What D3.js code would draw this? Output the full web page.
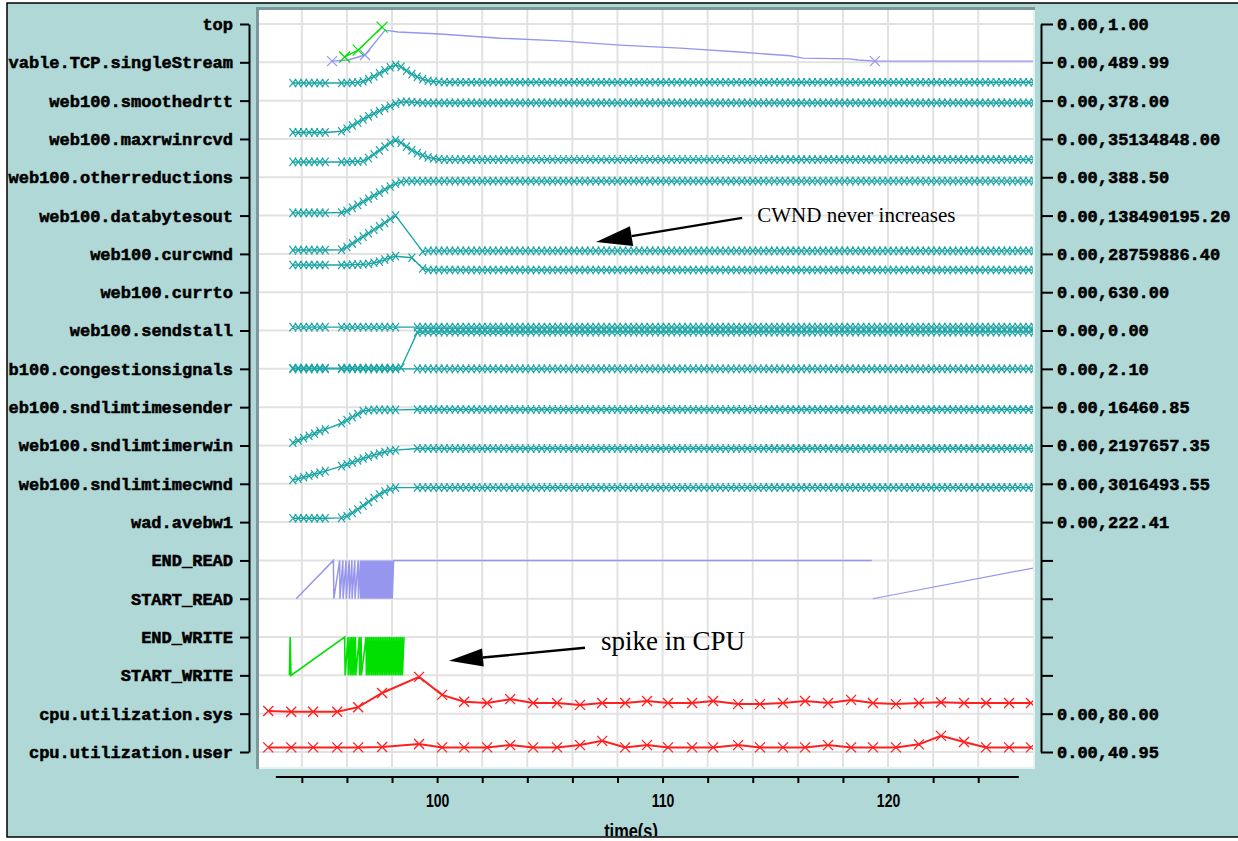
<!DOCTYPE html>
<html>
<head>
<meta charset="utf-8">
<script src="https://cdn.jsdelivr.net/npm/d3@7"></script>
<style>
  html, body { margin: 0; padding: 0; background: #fff; }
  svg { display: block; }
</style>
</head>
<body>
<div id="chart"></div>
<script>
// row labels of the left axis, top to bottom (as far as they show inside the frame)
const rowLabels = ["top", "vable.TCP.singleStream", "web100.smoothedrtt", "web100.maxrwinrcvd",
  "web100.otherreductions", "web100.databytesout", "web100.curcwnd", "web100.currto", "web100.sendstall",
  "b100.congestionsignals", "eb100.sndlimtimesender", "web100.sndlimtimerwin", "web100.sndlimtimecwnd",
  "wad.avebw1", "END_READ", "START_READ", "END_WRITE", "START_WRITE", "cpu.utilization.sys", "cpu.utilization.user"];
// min,max of each row (right axis)
const rangeLabels = ["0.00,1.00", "0.00,489.99", "0.00,378.00", "0.00,35134848.00", "0.00,388.50",
  "0.00,138490195.20", "0.00,28759886.40", "0.00,630.00", "0.00,0.00", "0.00,2.10", "0.00,16460.85",
  "0.00,2197657.35", "0.00,3016493.55", "0.00,222.41", "", "", "", "", "0.00,80.00", "0.00,40.95"];

// time axis
const xTicks = [94, 96, 98, 100, 102, 104, 106, 108, 110, 112, 114, 116, 118, 120, 122, 124];
const xLabelled = [100, 110, 120];

// web100 samples: one value every samplePeriod seconds from sampleStart,
// value = fraction of the row band above the series' baseline row (null = no sample)
const sampleStart = 93.6, samplePeriod = 0.24;

const rttTrace = [
  .46,.46,.46,.46,.46,.46,.46,null,null,.46,.46,.47,.47,.5,.56,.63,.71,.79,.87,.93,.88,.78,.69,.62,.56,.52,.5,.49,
  .48,.48,.48,.48,.48,.48,.48,.48,.48,.48,.48,
  .48,.48,.48,.48,.48,.48,.48,.48,.48,.48,.48,
  .48,.48,.48,.48,.48,.48,.48,.48,.48,.48,.48,
  .48,.48,.48,.48,.48,.48,.48,.48,.48,.48,.48,
  .48,.48,.48,.48,.48,.48,.48,.48,.48,.48,.48,
  .48,.48,.48,.48,.48,.48,.48,.48,.48,.48,.48,
  .48,.48,.48,.48,.48,.48,.48,.48,.48,.48,.48,
  .48,.48,.48,.48,.48,.48,.48,.48,.48,.48,.48,
  .48,.48,.48,.48,.48,.48,.48,.48,.48,.48,.48,
  .48,.48,.48,.48,.48,.48,.48,.48,.48,.48,.48
];
const rwinTrace = [
  .17,.17,.17,.17,.17,.17,.17,null,null,.2,.27,.35,.43,.51,.59,.66,.73,.8,.86,.92,.96,.97,.96,.95,.94,.94,.94,.94,
  .94,.94,.94,.94,.94,.94,.94,.94,.94,.94,.94,
  .94,.94,.94,.94,.94,.94,.94,.94,.94,.94,.94,
  .94,.94,.94,.94,.94,.94,.94,.94,.94,.94,.94,
  .94,.94,.94,.94,.94,.94,.94,.94,.94,.94,.94,
  .94,.94,.94,.94,.94,.94,.94,.94,.94,.94,.94,
  .94,.94,.94,.94,.94,.94,.94,.94,.94,.94,.94,
  .94,.94,.94,.94,.94,.94,.94,.94,.94,.94,.94,
  .94,.94,.94,.94,.94,.94,.94,.94,.94,.94,.94,
  .94,.94,.94,.94,.94,.94,.94,.94,.94,.94,.94,
  .94,.94,.94,.94,.94,.94,.94,.94,.94,.94,.94
];
const otherRedTrace = [
  .4,.4,.4,.4,.4,.4,.4,null,null,.4,.4,.41,.41,.42,.5,.6,.7,.8,.9,.97,.9,.8,.71,.63,.57,.52,.49,.47,
  .46,.46,.46,.46,.46,.46,.46,.46,.46,.46,.46,
  .46,.46,.46,.46,.46,.46,.46,.46,.46,.46,.46,
  .46,.46,.46,.46,.46,.46,.46,.46,.46,.46,.46,
  .46,.46,.46,.46,.46,.46,.46,.46,.46,.46,.46,
  .46,.46,.46,.46,.46,.46,.46,.46,.46,.46,.46,
  .46,.46,.46,.46,.46,.46,.46,.46,.46,.46,.46,
  .46,.46,.46,.46,.46,.46,.46,.46,.46,.46,.46,
  .46,.46,.46,.46,.46,.46,.46,.46,.46,.46,.46,
  .46,.46,.46,.46,.46,.46,.46,.46,.46,.46,.46,
  .46,.46,.46,.46,.46,.46,.46,.46,.46,.46,.46
];
const bytesOutTrace = [
  .07,.07,.07,.07,.07,.07,.07,null,null,.08,.12,.2,.28,.36,.44,.52,.6,.68,.76,.83,.88,.9,.9,.9,.9,.9,.9,.9,
  .9,.9,.9,.9,.9,.9,.9,.9,.9,.9,.9,
  .9,.9,.9,.9,.9,.9,.9,.9,.9,.9,.9,
  .9,.9,.9,.9,.9,.9,.9,.9,.9,.9,.9,
  .9,.9,.9,.9,.9,.9,.9,.9,.9,.9,.9,
  .9,.9,.9,.9,.9,.9,.9,.9,.9,.9,.9,
  .9,.9,.9,.9,.9,.9,.9,.9,.9,.9,.9,
  .9,.9,.9,.9,.9,.9,.9,.9,.9,.9,.9,
  .9,.9,.9,.9,.9,.9,.9,.9,.9,.9,.9,
  .9,.9,.9,.9,.9,.9,.9,.9,.9,.9,.9,
  .9,.9,.9,.9,.9,.9,.9,.9,.9,.9,.9
];
const cwndTrace = [
  .1,.1,.1,.1,.1,.1,.1,null,null,.11,.18,.27,.36,.45,.54,.63,.72,.81,.91,1,null,null,null,null,.06,.08,.08,.08,
  .08,.08,.08,.08,.08,.08,.08,.08,.08,.08,.08,
  .08,.08,.08,.08,.08,.08,.08,.08,.08,.08,.08,
  .08,.08,.08,.08,.08,.08,.08,.08,.08,.08,.08,
  .08,.08,.08,.08,.08,.08,.08,.08,.08,.08,.08,
  .08,.08,.08,.08,.08,.08,.08,.08,.08,.08,.08,
  .08,.08,.08,.08,.08,.08,.08,.08,.08,.08,.08,
  .08,.08,.08,.08,.08,.08,.08,.08,.08,.08,.08,
  .08,.08,.08,.08,.08,.08,.08,.08,.08,.08,.08,
  .08,.08,.08,.08,.08,.08,.08,.08,.08,.08,.08,
  .08,.08,.08,.08,.08,.08,.08,.08,.08,.08,.08
];
const rtoTrace = [
  .71,.71,.71,.71,.71,.71,.71,null,null,.71,.71,.72,.72,.73,.74,.77,.8,.85,.9,.94,null,null,.9,null,.62,.58,.58,.58,
  .58,.58,.58,.58,.58,.58,.58,.58,.58,.58,.58,
  .58,.58,.58,.58,.58,.58,.58,.58,.58,.58,.58,
  .58,.58,.58,.58,.58,.58,.58,.58,.58,.58,.58,
  .58,.58,.58,.58,.58,.58,.58,.58,.58,.58,.58,
  .58,.58,.58,.58,.58,.58,.58,.58,.58,.58,.58,
  .58,.58,.58,.58,.58,.58,.58,.58,.58,.58,.58,
  .58,.58,.58,.58,.58,.58,.58,.58,.58,.58,.58,
  .58,.58,.58,.58,.58,.58,.58,.58,.58,.58,.58,
  .58,.58,.58,.58,.58,.58,.58,.58,.58,.58,.58,
  .58,.58,.58,.58,.58,.58,.58,.58,.58,.58,.58
];
const stallTrace = [
  .09,.09,.09,.09,.09,.09,.09,null,null,.09,.09,.09,.09,.09,.09,.09,.09,.09,.09,.09,null,null,null,.09,.09,.09,.09,.09,
  .09,.09,.09,.09,.09,.09,.09,.09,.09,.09,.09,
  .09,.09,.09,.09,.09,.09,.09,.09,.09,.09,.09,
  .09,.09,.09,.09,.09,.09,.09,.09,.09,.09,.09,
  .09,.09,.09,.09,.09,.09,.09,.09,.09,.09,.09,
  .09,.09,.09,.09,.09,.09,.09,.09,.09,.09,.09,
  .09,.09,.09,.09,.09,.09,.09,.09,.09,.09,.09,
  .09,.09,.09,.09,.09,.09,.09,.09,.09,.09,.09,
  .09,.09,.09,.09,.09,.09,.09,.09,.09,.09,.09,
  .09,.09,.09,.09,.09,.09,.09,.09,.09,.09,.09,
  .09,.09,.09,.09,.09,.09,.09,.09,.09,.09,.09
];
const congTrace = [
  .02,.02,.02,.02,.02,.02,.02,null,null,.02,.02,.02,.02,.02,.02,.02,.02,.02,.02,.02,.03,null,null,.95,.96,.96,.96,.96,
  .96,.96,.96,.96,.96,.96,.96,.96,.96,.96,.96,
  .96,.96,.96,.96,.96,.96,.96,.96,.96,.96,.96,
  .96,.96,.96,.96,.96,.96,.96,.96,.96,.96,.96,
  .96,.96,.96,.96,.96,.96,.96,.96,.96,.96,.96,
  .96,.96,.96,.96,.96,.96,.96,.96,.96,.96,.96,
  .96,.96,.96,.96,.96,.96,.96,.96,.96,.96,.96,
  .96,.96,.96,.96,.96,.96,.96,.96,.96,.96,.96,
  .96,.96,.96,.96,.96,.96,.96,.96,.96,.96,.96,
  .96,.96,.96,.96,.96,.96,.96,.96,.96,.96,.96,
  .96,.96,.96,.96,.96,.96,.96,.96,.96,.96,.96
];
const congFlatTrace = [
  0,0,0,0,0,0,0,null,null,0,0,0,0,0,0,0,0,0,0,0,null,null,null,0,0,0,0,0,
  0,0,0,0,0,0,0,0,0,0,0,
  0,0,0,0,0,0,0,0,0,0,0,
  0,0,0,0,0,0,0,0,0,0,0,
  0,0,0,0,0,0,0,0,0,0,0,
  0,0,0,0,0,0,0,0,0,0,0,
  0,0,0,0,0,0,0,0,0,0,0,
  0,0,0,0,0,0,0,0,0,0,0,
  0,0,0,0,0,0,0,0,0,0,0,
  0,0,0,0,0,0,0,0,0,0,0,
  0,0,0,0,0,0,0,0,0,0,0
];
const senderTrace = [
  .07,.13,.19,.25,.31,.37,.42,null,null,.58,.66,.74,.82,.9,.92,.93,.93,.93,.93,.93,null,null,null,.94,.94,.94,.94,.94,
  .94,.94,.94,.94,.94,.94,.94,.94,.94,.94,.94,
  .94,.94,.94,.94,.94,.94,.94,.94,.94,.94,.94,
  .94,.94,.94,.94,.94,.94,.94,.94,.94,.94,.94,
  .94,.94,.94,.94,.94,.94,.94,.94,.94,.94,.94,
  .94,.94,.94,.94,.94,.94,.94,.94,.94,.94,.94,
  .94,.94,.94,.94,.94,.94,.94,.94,.94,.94,.94,
  .94,.94,.94,.94,.94,.94,.94,.94,.94,.94,.94,
  .94,.94,.94,.94,.94,.94,.94,.94,.94,.94,.94,
  .94,.94,.94,.94,.94,.94,.94,.94,.94,.94,.94,
  .94,.94,.94,.94,.94,.94,.94,.94,.94,.94,.94
];
const rwinLimTrace = [
  .1,.13,.17,.21,.25,.29,.33,null,null,.46,.51,.56,.61,.66,.71,.75,.79,.83,.86,.88,null,null,null,.92,.92,.92,.92,.92,
  .92,.92,.92,.92,.92,.92,.92,.92,.92,.92,.92,
  .92,.92,.92,.92,.92,.92,.92,.92,.92,.92,.92,
  .92,.92,.92,.92,.92,.92,.92,.92,.92,.92,.92,
  .92,.92,.92,.92,.92,.92,.92,.92,.92,.92,.92,
  .92,.92,.92,.92,.92,.92,.92,.92,.92,.92,.92,
  .92,.92,.92,.92,.92,.92,.92,.92,.92,.92,.92,
  .92,.92,.92,.92,.92,.92,.92,.92,.92,.92,.92,
  .92,.92,.92,.92,.92,.92,.92,.92,.92,.92,.92,
  .92,.92,.92,.92,.92,.92,.92,.92,.92,.92,.92,
  .92,.92,.92,.92,.92,.92,.92,.92,.92,.92,.92
];
const cwndLimTrace = [
  .1,.1,.1,.1,.1,.1,.1,null,null,.11,.16,.24,.33,.43,.53,.63,.72,.8,.86,.9,null,null,null,.9,.9,.9,.9,.9,
  .9,.9,.9,.9,.9,.9,.9,.9,.9,.9,.9,
  .9,.9,.9,.9,.9,.9,.9,.9,.9,.9,.9,
  .9,.9,.9,.9,.9,.9,.9,.9,.9,.9,.9,
  .9,.9,.9,.9,.9,.9,.9,.9,.9,.9,.9,
  .9,.9,.9,.9,.9,.9,.9,.9,.9,.9,.9,
  .9,.9,.9,.9,.9,.9,.9,.9,.9,.9,.9,
  .9,.9,.9,.9,.9,.9,.9,.9,.9,.9,.9,
  .9,.9,.9,.9,.9,.9,.9,.9,.9,.9,.9,
  .9,.9,.9,.9,.9,.9,.9,.9,.9,.9,.9,
  .9,.9,.9,.9,.9,.9,.9,.9,.9,.9,.9
];
// baseline row of each web100 trace
const web100Series = [
  { row: 2, vals: rttTrace }, { row: 3, vals: rwinTrace }, { row: 4, vals: otherRedTrace },
  { row: 5, vals: bytesOutTrace }, { row: 6, vals: cwndTrace }, { row: 7, vals: rtoTrace },
  { row: 8, vals: stallTrace }, { row: 9, vals: congTrace }, { row: 9, vals: congFlatTrace },
  { row: 11, vals: senderTrace }, { row: 12, vals: rwinLimTrace }, { row: 13, vals: cwndLimTrace }
];

// singleStream (lavender) and top (green): [time, fraction, has marker]
const singleStream = [[95.34,.03,1],[96.05,.06,0],[96.8,.19,1],[97.69,.84,0],[98.27,.79,0],[100.13,.74,0],
  [102.8,.63,0],[105.45,.56,0],[108.1,.45,0],[110.78,.37,0],[113.4,.27,0],[115.2,.19,0],[115.65,.17,0],
  [116.23,.11,0],[118.3,.09,0],[118.67,.06,0],[119.42,.03,1],[126.5,.03,0]];
const topTrace = [[95.9,.14,1],[96.5,.32,1],[97.56,.92,1]];

// read / write intervals [start, end] (sawtooth between START_ and END_ rows)
const readIntervals = [[93.75,95.40],[95.42,95.68],[95.69,95.82],[95.83,95.96],[95.97,96.10],[96.11,96.22],
  [96.23,96.35],[96.36,96.50],[96.51,96.60],[96.61,96.67],[96.68,96.74],[96.75,96.81],[96.82,96.88],
  [96.89,96.95],[96.96,97.02],[97.03,97.09],[97.10,97.16],[97.17,97.23],[97.24,97.30],[97.31,97.37],
  [97.38,97.44],[97.45,97.51],[97.52,97.58],[97.59,97.65],[97.66,97.72],[97.73,97.79],[97.80,97.86],
  [97.87,97.93],[97.94,98.00],[98.01,98.07]];
const readHoldUntil = 119.28;
const lateRead = [119.32, 128.2];
const writeIntervals = [[93.45,93.48],[93.52,95.90],[95.92,96.05],[96.06,96.14],[96.15,96.22],[96.23,96.30],
  [96.31,96.38],[96.39,96.55],[96.56,96.63],[96.64,96.85],[96.86,96.93],[96.94,97.01],[97.02,97.09],
  [97.10,97.17],[97.18,97.25],[97.26,97.33],[97.34,97.41],[97.42,97.49],[97.50,97.57],[97.58,97.65],
  [97.66,97.73],[97.74,97.81],[97.82,97.89],[97.90,97.97],[97.98,98.05],[98.06,98.13],[98.14,98.21],
  [98.22,98.29],[98.30,98.37],[98.38,98.45],[98.46,98.53]];

// cpu utilisation, one sample per second
const cpuTimes = [92.51,93.53,94.5,95.57,96.5,97.56,99.2,100.22,101.2,102.22,103.24,104.26,105.32,106.34,
  107.32,108.34,109.31,110.24,111.31,112.24,113.35,114.32,115.34,116.32,117.34,118.36,119.33,120.35,121.37,
  122.35,123.37,124.35,125.37,126.34];
const cpuSys = [.07,.05,.05,.05,.17,.54,.96,.49,.31,.28,.38,.28,.28,.23,.28,.28,.33,.28,.28,.33,.25,.25,.28,
  .33,.28,.36,.28,.25,.28,.3,.28,.28,.28,.28];
const cpuUser = [.12,.12,.12,.12,.12,.13,.21,.12,.12,.12,.18,.12,.12,.18,.29,.12,.18,.12,.12,.12,.18,.12,.12,
  .12,.18,.12,.12,.12,.2,.42,.26,.12,.12,.12];

// annotations, in (time, row) coordinates
const notes = [
  { text: "CWND never increases", t: 114.2, row: 5.17, size: 21 },
  { text: "spike in CPU", t: 107.27, row: 16.34, size: 27 }
];
const arrows = [
  { from: [113.53, 5.06], to: [107.05, 5.69], len: 36, half: 10 },
  { from: [106.56, 16.28], to: [100.53, 16.62], len: 34, half: 9 }
];

const W = 1238, H = 841;
const teal = "#b0d8d7", cyan = "#1aa4a4", lav = "#9696ee", green = "#00e000", red = "#ff1f1f";
const monoFont = "'Liberation Mono', 'Courier New', monospace";

const svg = d3.select("#chart").append("svg").attr("width", W).attr("height", H);
const defs = svg.append("defs");
defs.append("clipPath").attr("id", "plotClip").append("rect")
  .attr("x", 259).attr("y", 10).attr("width", 774).attr("height", 757);
defs.append("clipPath").attr("id", "frameClip").append("rect")
  .attr("x", 8).attr("y", 4).attr("width", W).attr("height", 832);

// x: time(s), y: row index
const x = d3.scaleLinear().domain([92.1, 126.43]).range([259, 1033]);
const y = d3.scaleLinear().domain([0, 19]).range([24, 752]);
const yv = (row, v) => y(row - v);
const sampleTime = i => sampleStart + i * samplePeriod;

// background frame
svg.append("rect").attr("x", 7).attr("y", 3).attr("width", W + 10).attr("height", 834)
  .attr("fill", teal).attr("stroke", "#000").attr("stroke-width", 1.5);

// sunken plot panel
svg.append("rect").attr("x", 256).attr("y", 7).attr("width", 779).attr("height", 762).attr("fill", "#7c9898");
svg.append("rect").attr("x", 259).attr("y", 10).attr("width", 776).attr("height", 759).attr("fill", "#e4f2f2");
svg.append("rect").attr("x", 259).attr("y", 10).attr("width", 774).attr("height", 757).attr("fill", "#fff");

const plot = svg.append("g").attr("clip-path", "url(#plotClip)");

// grid
plot.append("g").selectAll("line").data(d3.range(rowLabels.length)).join("line")
  .attr("x1", 259).attr("x2", 1033).attr("y1", d => y(d)).attr("y2", d => y(d))
  .attr("stroke", "#e2e2e2").attr("stroke-width", 2);
plot.append("g").selectAll("line").data(xTicks).join("line")
  .attr("x1", d => x(d)).attr("x2", d => x(d)).attr("y1", 10).attr("y2", 767)
  .attr("stroke", "#e2e2e2").attr("stroke-width", 2);

const line = d3.line();
function crossPath(p, hw, hh) {
  return `M${p[0] - hw},${p[1] - hh}L${p[0] + hw},${p[1] + hh}M${p[0] - hw},${p[1] + hh}L${p[0] + hw},${p[1] - hh}`;
}

// web100 traces
web100Series.forEach(s => {
  const pts = s.vals.map((v, i) => v == null ? null : [x(sampleTime(i)), yv(s.row, v)]).filter(Boolean);
  plot.append("path").attr("d", line(pts)).attr("fill", "none").attr("stroke", cyan).attr("stroke-width", 1.4);
  plot.append("path").attr("d", pts.map(p => crossPath(p, 3.4, 4.2)).join(""))
    .attr("fill", "none").attr("stroke", cyan).attr("stroke-width", 1.2);
});

// singleStream and top
function drawMarked(data, row, color, hw) {
  const pts = data.map(d => [x(d[0]), yv(row, d[1]), d[2]]);
  plot.append("path").attr("d", line(pts)).attr("fill", "none").attr("stroke", color).attr("stroke-width", 1.4);
  plot.append("path").attr("d", pts.filter(p => p[2]).map(p => crossPath(p, hw, hw)).join(""))
    .attr("fill", "none").attr("stroke", color).attr("stroke-width", 1.2);
}
drawMarked(singleStream, 1, lav, 5);
drawMarked(topTrace, 1, green, 5.5);

// reads (END_READ row 14 / START_READ row 15)
const readPts = readIntervals.flatMap(([s, e]) => [[x(s), yv(15, 0)], [x(e), yv(15, 1)]]);
readPts.push([x(readHoldUntil), yv(15, 1)]);
plot.append("path").attr("d", line(readPts)).attr("fill", "none").attr("stroke", lav).attr("stroke-width", 1.5);
plot.append("path").attr("d", line([[x(lateRead[0]), yv(15, 0)], [x(lateRead[1]), yv(15, 1)]]))
  .attr("fill", "none").attr("stroke", lav).attr("stroke-width", 1.2);

// writes (END_WRITE row 16 / START_WRITE row 17)
const writePts = writeIntervals.flatMap(([s, e]) => [[x(s), yv(17, 0)], [x(e), yv(17, 1)]]);
plot.append("path").attr("d", line(writePts)).attr("fill", "none").attr("stroke", green).attr("stroke-width", 1.6);

// cpu
[[cpuSys, 18], [cpuUser, 19]].forEach(([vals, row]) => {
  const pts = vals.map((v, i) => [x(cpuTimes[i]), yv(row, v)]);
  plot.append("path").attr("d", line(pts)).attr("fill", "none").attr("stroke", red).attr("stroke-width", 2);
  plot.append("path").attr("d", pts.map(p => crossPath(p, 5, 5)).join(""))
    .attr("fill", "none").attr("stroke", red).attr("stroke-width", 1.3);
});

// left axis
const leftAxis = svg.append("g").attr("transform", "translate(249,0)")
  .call(d3.axisLeft(y).tickValues(d3.range(rowLabels.length)).tickFormat(i => rowLabels[i])
    .tickSize(9).tickSizeOuter(0).tickPadding(7));
// right axis
const rightAxis = svg.append("g").attr("transform", "translate(1041,0)")
  .call(d3.axisRight(y).tickValues(d3.range(rowLabels.length)).tickFormat(i => rangeLabels[i])
    .tickSize(12).tickSizeOuter(0).tickPadding(4));
[leftAxis, rightAxis].forEach(a => {
  a.selectAll("path, line").attr("stroke", "#000").attr("stroke-width", 2);
  a.selectAll("text").attr("font-family", monoFont).attr("font-weight", "bold")
    .attr("font-size", 17).attr("fill", "#000").attr("stroke", "#000").attr("stroke-width", 0.55);
});

// bottom axis
const xAxis = svg.append("g").attr("transform", "translate(0,777)")
  .call(d3.axisBottom(x).tickValues(xTicks).tickFormat(d => xLabelled.includes(d) ? d : "")
    .tickSize(6).tickSizeOuter(0).tickPadding(11));
xAxis.select(".domain").remove();
xAxis.append("line").attr("x1", x(92.85)).attr("x2", x(125.8)).attr("stroke", "#000").attr("stroke-width", 2);
xAxis.selectAll("line").attr("stroke", "#000").attr("stroke-width", 2);
xAxis.selectAll("text").attr("font-family", "'Liberation Sans', Arial, sans-serif").attr("font-weight", "bold")
  .attr("font-size", 18).attr("fill", "#000").attr("transform", "scale(0.78,1)");

svg.append("g").attr("clip-path", "url(#frameClip)")
  .append("g").attr("transform", `translate(${x(108.6)},838) scale(0.78,1)`)
  .append("text").attr("text-anchor", "middle")
  .attr("font-family", "'Liberation Sans', Arial, sans-serif").attr("font-weight", "bold")
  .attr("font-size", 21).text("time(s)");

// annotations
notes.forEach(n => {
  svg.append("text").attr("x", x(n.t)).attr("y", y(n.row))
    .attr("font-family", "'Liberation Serif', 'Times New Roman', serif").attr("font-size", n.size)
    .attr("fill", "#000").text(n.text);
});
arrows.forEach(a => {
  const p0 = [x(a.from[0]), y(a.from[1])], p1 = [x(a.to[0]), y(a.to[1])];
  const dx = p0[0] - p1[0], dy = p0[1] - p1[1], L = Math.hypot(dx, dy);
  const ux = dx / L, uy = dy / L;
  const b = [p1[0] + ux * a.len, p1[1] + uy * a.len];
  svg.append("line").attr("x1", p0[0]).attr("y1", p0[1]).attr("x2", b[0]).attr("y2", b[1])
    .attr("stroke", "#000").attr("stroke-width", 2.4);
  svg.append("path").attr("fill", "#000")
    .attr("d", `M${p1[0]},${p1[1]}L${b[0] - uy * a.half},${b[1] + ux * a.half}L${b[0] + uy * a.half},${b[1] - ux * a.half}Z`);
});
</script>
</body>
</html>
